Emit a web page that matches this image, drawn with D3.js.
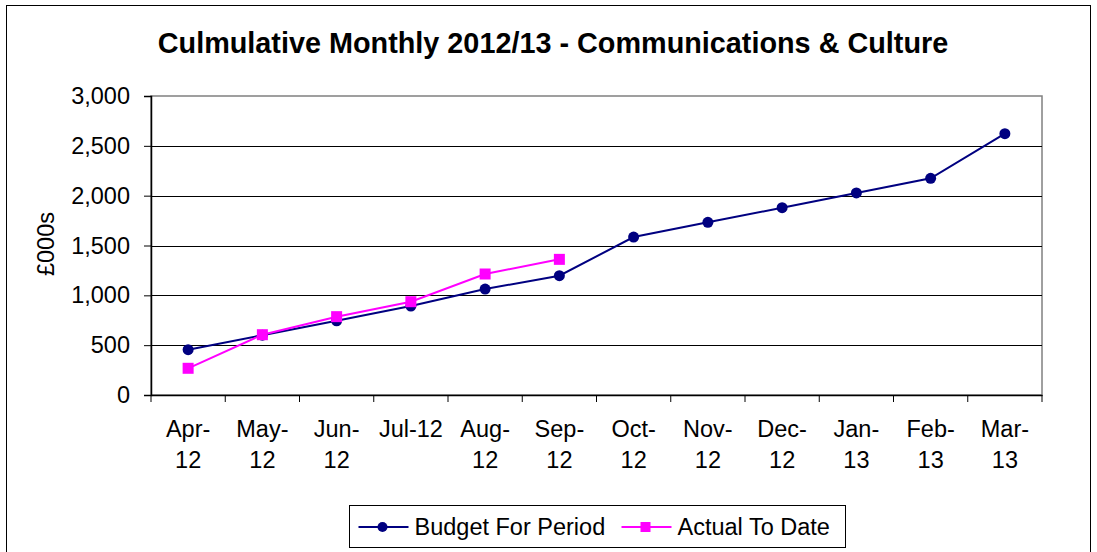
<!DOCTYPE html>
<html>
<head>
<meta charset="utf-8">
<script src="https://cdn.jsdelivr.net/npm/d3@7"></script>
<style>
  body { margin: 0; background: #fff; }
  svg { font-family: "Liberation Sans", Arial, sans-serif; }
  .axis text { fill: #000; }
</style>
</head>
<body>
<div id="chart"></div>
<script>
// Data
const months = ["Apr-12", "May-12", "Jun-12", "Jul-12", "Aug-12", "Sep-12",
                "Oct-12", "Nov-12", "Dec-12", "Jan-13", "Feb-13", "Mar-13"];
const monthLines = [["Apr-", "12"], ["May-", "12"], ["Jun-", "12"], ["Jul-12"], ["Aug-", "12"], ["Sep-", "12"],
                    ["Oct-", "12"], ["Nov-", "12"], ["Dec-", "12"], ["Jan-", "13"], ["Feb-", "13"], ["Mar-", "13"]];
const budget = [455, 600, 745, 893, 1063, 1197, 1585, 1733, 1879, 2027, 2174, 2622];
const actual = [268, 605, 786, 936, 1214, 1361];
const yTicks = [0, 500, 1000, 1500, 2000, 2500, 3000];

const width = 1097, height = 552;
const plot = { left: 151, right: 1042, top: 96, bottom: 395 };

const svg = d3.select("#chart").append("svg")
  .attr("width", width)
  .attr("height", height);

// Outer chart frame
svg.append("rect")
  .attr("x", 6.5).attr("y", 5.5)
  .attr("width", 1084).attr("height", 560)
  .attr("fill", "#fff").attr("stroke", "#000").attr("stroke-width", 1);

// Title
svg.append("text")
  .attr("x", 553).attr("y", 53)
  .attr("text-anchor", "middle")
  .attr("font-size", "28.8px").attr("font-weight", "bold")
  .text("Culmulative Monthly 2012/13 - Communications & Culture");

// Scales
const x = d3.scaleBand().domain(months).range([plot.left, plot.right]);
const y = d3.scaleLinear().domain([0, 3000]).range([plot.bottom, plot.top]);

// Plot area border
svg.append("rect")
  .attr("x", plot.left).attr("y", plot.top)
  .attr("width", plot.right - plot.left).attr("height", plot.bottom - plot.top)
  .attr("fill", "none").attr("stroke", "#808080").attr("stroke-width", 1.5);

// Gridlines
svg.append("g")
  .selectAll("line")
  .data(yTicks.filter(d => d > 0 && d < 3000))
  .join("line")
    .attr("x1", plot.left).attr("x2", plot.right)
    .attr("y1", d => Math.round(y(d)) + 0.5).attr("y2", d => Math.round(y(d)) + 0.5)
    .attr("stroke", "#000").attr("stroke-width", 1);

// Y axis
svg.append("g")
  .attr("class", "axis")
  .attr("transform", `translate(${plot.left},0)`)
  .call(d3.axisLeft(y).tickValues(yTicks).tickFormat(d3.format(",")).tickSize(7).tickPadding(14))
  .call(g => g.select(".domain").attr("stroke", "#000").attr("stroke-width", 1.5))
  .call(g => g.selectAll("text").attr("font-size", "23.5px").attr("font-family", null));

// X axis
const xAxis = svg.append("g")
  .attr("class", "axis")
  .attr("transform", `translate(0,${plot.bottom})`)
  .call(d3.axisBottom(x).tickSize(0).tickFormat(""))
  .call(g => g.select(".domain").attr("stroke", "#000").attr("stroke-width", 1.5));

// X tick marks at category boundaries
xAxis.append("g")
  .selectAll("line")
  .data(months.concat(["end"]))
  .join("line")
    .attr("x1", (d, i) => plot.left + i * x.step())
    .attr("x2", (d, i) => plot.left + i * x.step())
    .attr("y1", 0).attr("y2", 7)
    .attr("stroke", "#000");

// X labels (wrapped)
xAxis.selectAll(".xlab")
  .data(monthLines)
  .join("text")
    .attr("class", "xlab")
    .attr("text-anchor", "middle")
    .attr("font-size", "23.5px")
    .attr("fill", "#000")
    .attr("transform", (d, i) => `translate(${x(months[i]) + x.bandwidth() / 2},0)`)
    .selectAll("tspan")
    .data(d => d)
    .join("tspan")
      .attr("x", 0)
      .attr("y", (d, i) => 42 + i * 31)
      .text(d => d);

// Y axis label
svg.append("text")
  .attr("transform", "rotate(-90)")
  .attr("x", -244).attr("y", 54)
  .attr("text-anchor", "middle")
  .attr("font-size", "23.5px")
  .text("£000s");

// Lines
const line = d3.line()
  .x((d, i) => x(months[i]) + x.bandwidth() / 2)
  .y(d => y(d));

svg.append("path")
  .datum(budget)
  .attr("d", line)
  .attr("fill", "none").attr("stroke", "#000080").attr("stroke-width", 2);

svg.append("path")
  .datum(actual)
  .attr("d", line)
  .attr("fill", "none").attr("stroke", "#FF00FF").attr("stroke-width", 2);

// Markers
svg.append("g")
  .selectAll("circle")
  .data(budget)
  .join("circle")
    .attr("cx", (d, i) => x(months[i]) + x.bandwidth() / 2)
    .attr("cy", d => y(d))
    .attr("r", 5.5)
    .attr("fill", "#000080");

svg.append("g")
  .selectAll("rect")
  .data(actual)
  .join("rect")
    .attr("x", (d, i) => x(months[i]) + x.bandwidth() / 2 - 5.5)
    .attr("y", d => y(d) - 5.5)
    .attr("width", 11).attr("height", 11)
    .attr("fill", "#FF00FF");

// Legend
const legend = svg.append("g").attr("transform", "translate(349.5,505.5)");
legend.append("rect")
  .attr("width", 496).attr("height", 42)
  .attr("fill", "#fff").attr("stroke", "#000");

const legendItems = [
  { name: "Budget For Period", color: "#000080", shape: "circle", x: 9 },
  { name: "Actual To Date", color: "#FF00FF", shape: "square", x: 272 }
];

legendItems.forEach(item => {
  const g = legend.append("g").attr("transform", `translate(${item.x},21.5)`);
  g.append("line")
    .attr("x1", 0).attr("x2", 50)
    .attr("stroke", item.color).attr("stroke-width", 2);
  if (item.shape === "circle") {
    g.append("circle").attr("cx", 24).attr("r", 5).attr("fill", item.color);
  } else {
    g.append("rect").attr("x", 19).attr("y", -5).attr("width", 10).attr("height", 10).attr("fill", item.color);
  }
  g.append("text")
    .attr("x", 56).attr("y", 8)
    .attr("font-size", "23.5px")
    .text(item.name);
});
</script>
</body>
</html>
